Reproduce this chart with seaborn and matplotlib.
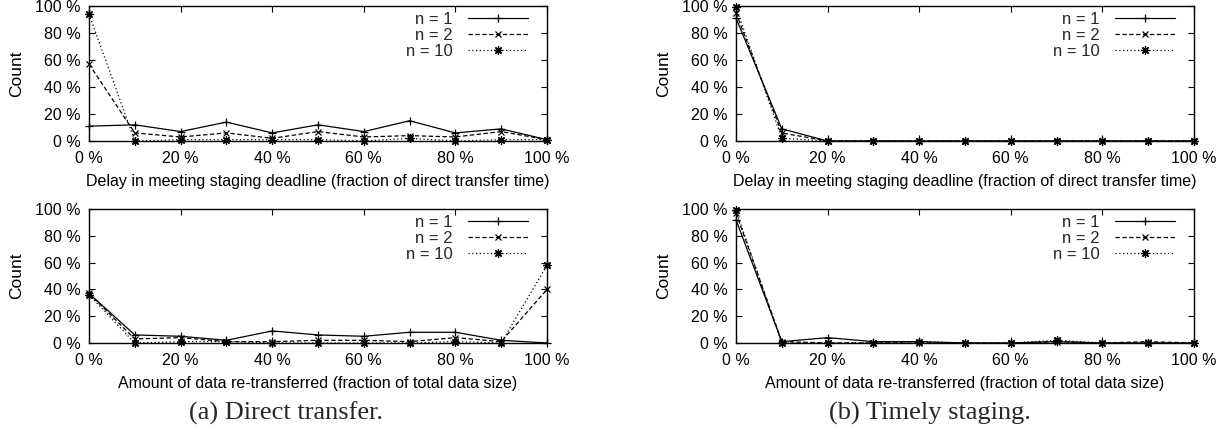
import numpy as np
import pandas as pd
import matplotlib
matplotlib.use("Agg")
import matplotlib.pyplot as plt
import seaborn as sns

sns.set_theme(style="white")
plt.rcParams['font.family'] = ['Liberation Sans', 'DejaVu Sans']

x_pct = [0, 10, 20, 30, 40, 50, 60, 70, 80, 90, 100]
series_labels = ["n = 1", "n = 2", "n = 10"]

# (a) Direct transfer – delay
a_delay_n1 = [11, 12, 7, 14, 6, 12, 7, 15, 6, 9, 1]
a_delay_n2 = [57, 6, 3, 6, 2, 7, 3, 4, 3, 7, 1]
a_delay_n10 = [94, 0, 1, 1, 1, 1, 0, 2, 0, 1, 1]
# (a) Direct transfer – re-transferred
a_retx_n1 = [37, 6, 5, 2, 9, 6, 5, 8, 8, 2, 0]
a_retx_n2 = [37, 3, 4, 1, 1, 2, 2, 1, 4, 1, 40]
a_retx_n10 = [36, 0, 1, 1, 0, 0, 0, 0, 1, 0, 58]
# (b) Timely staging – delay
b_delay_n1 = [91, 9, 0, 0, 0, 0, 0, 0, 0, 0, 0]
b_delay_n2 = [95, 6, 0, 0, 0, 0, 0, 0, 0, 0, 0]
b_delay_n10 = [99, 2, 0, 0, 0, 0, 0, 0, 0, 0, 0]
# (b) Timely staging – re-transferred
b_retx_n1 = [92, 1, 4, 1, 1, 0, 0, 1, 0, 0, 0]
b_retx_n2 = [97, 1, 0, 0, 0, 0, 0, 1, 0, 1, 0]
b_retx_n10 = [99, 0, 0, 0, 1, 0, 0, 2, 0, 0, 0]

xlabel_delay = "Delay in meeting staging deadline (fraction of direct transfer time)"
xlabel_retx = "Amount of data re-transferred (fraction of total data size)"
captions = ["(a) Direct transfer.", "(b) Timely staging."]

fig = plt.figure(figsize=(12.27, 4.4), dpi=100)

left_x = [89 / 1227, 736 / 1227]
width = 458 / 1227
panels = [
    (left_x[0], 0.6795, 0.307, [a_delay_n1, a_delay_n2, a_delay_n10], xlabel_delay),
    (left_x[0], 0.2205, 0.3045, [a_retx_n1, a_retx_n2, a_retx_n10], xlabel_retx),
    (left_x[1], 0.6795, 0.307, [b_delay_n1, b_delay_n2, b_delay_n10], xlabel_delay),
    (left_x[1], 0.2205, 0.3045, [b_retx_n1, b_retx_n2, b_retx_n10], xlabel_retx),
]

styles = [
    dict(linestyle='-', marker='+', markersize=6),
    dict(linestyle=(0, (3.5, 2)), marker='x', markersize=4.5),
    dict(linestyle=(0, (1, 2)), marker=(8, 2, 0), markersize=6),
]

fs = 11.5
for (lx, by, h, data, xl) in panels:
    ax = fig.add_axes([lx, by, width, h])
    for vals, lab, st in zip(data, series_labels, styles):
        df = pd.DataFrame({"x": x_pct, "y": vals})
        sns.lineplot(data=df, x="x", y="y", ax=ax, color='black', linewidth=0.9,
                     label=lab, markeredgewidth=0.9, markerfacecolor='black',
                     markeredgecolor='black', clip_on=False, **st)
    ax.set_xlim(0, 100)
    ax.set_ylim(0, 100)
    ax.set_xticks(range(0, 101, 20))
    ax.set_yticks(range(0, 101, 20))
    ax.set_xticklabels([f"{v} %" for v in range(0, 101, 20)], fontsize=fs)
    ax.set_yticklabels([f"{v} %" for v in range(0, 101, 20)], fontsize=fs)
    ax.tick_params(direction='in', length=4, width=0.8, top=True, right=True,
                   bottom=True, left=True, colors='black')
    ax.tick_params(axis='x', pad=7)
    ax.tick_params(axis='y', pad=6)
    for sp in ax.spines.values():
        sp.set_color('black')
        sp.set_linewidth(1.0)
    ax.set_xlabel(xl, fontsize=fs, color='black', labelpad=6)
    ax.set_ylabel("Count", fontsize=12.5, color='black', labelpad=8)
    ax.grid(False)
    leg = ax.legend(loc='upper right', frameon=False, markerfirst=False,
                    fontsize=12, handlelength=3.6, borderaxespad=0.0,
                    labelspacing=0.05, handletextpad=0.9, borderpad=0.0,
                    bbox_to_anchor=(0.958, 0.955))
    for t in leg.get_texts():
        t.set_ha('right')
    leg._legend_box.align = "right"

fig.text(286 / 1227, 1 - 413 / 440, captions[0], ha='center', va='center',
         fontsize=19, family=['Liberation Serif', 'DejaVu Serif'])
fig.text(930 / 1227, 1 - 413 / 440, captions[1], ha='center', va='center',
         fontsize=19, family=['Liberation Serif', 'DejaVu Serif'])

fig.savefig("out.png", dpi=100)
